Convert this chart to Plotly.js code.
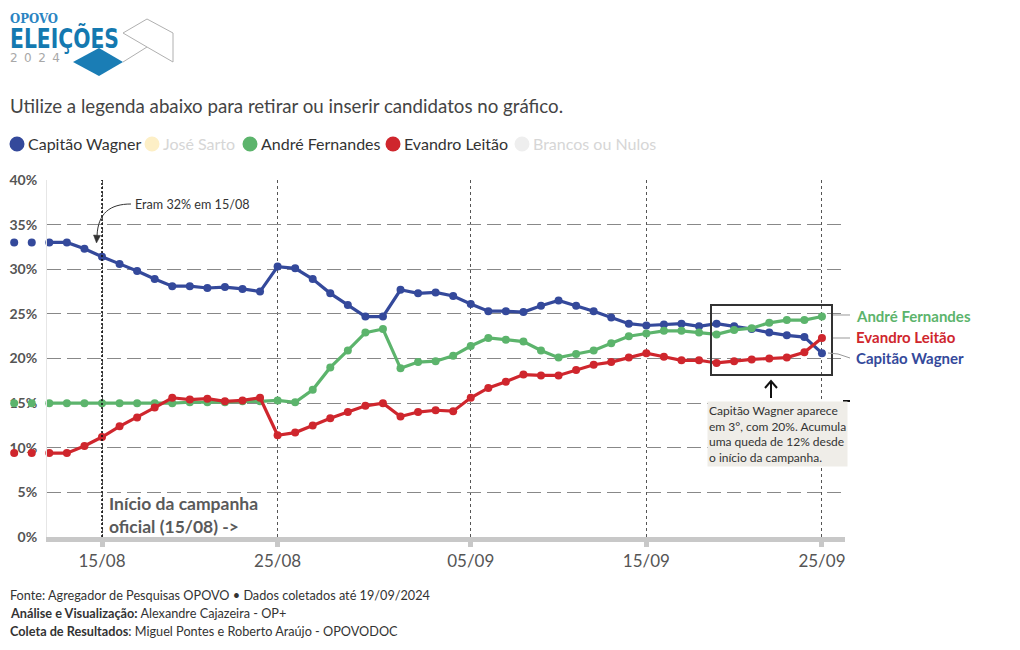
<!DOCTYPE html>
<html>
<head>
<meta charset="utf-8">
<script src="https://cdn.plot.ly/plotly-3.0.1.min.js"></script>
<style>
html,body{margin:0;padding:0;background:#fff;}
#wrap{position:relative;width:1020px;height:650px;}
#chart{position:absolute;left:0;top:0;width:1020px;height:650px;}
#logo{position:absolute;left:0;top:0;pointer-events:none;}
</style>
</head>
<body>
<div id="wrap">
<div id="chart"></div>
<svg id="logo" width="180" height="80" viewBox="0 0 180 80">
  <text x="10" y="23" font-family="DejaVu Serif, serif" font-weight="bold" font-size="13" fill="#2a84c2" textLength="48" lengthAdjust="spacingAndGlyphs">OPOVO</text>
  <g transform="translate(10,48) scale(1,1.3)">
    <text x="0" y="0" font-family="DejaVu Sans Condensed, sans-serif" font-weight="bold" font-size="21" fill="#1479b0" textLength="109" lengthAdjust="spacingAndGlyphs">ELEIÇÕES</text>
  </g>
  <text x="10" y="62" font-family="DejaVu Sans, sans-serif" font-size="12" fill="#a8a8a8" textLength="50" lengthAdjust="spacing">2024</text>
  <polygon points="73,62 99,48 123,62 99,76" fill="#1a7db5"/>
  <polyline points="123,62 147,47 123,33 147,19 173,33 173,62 147,47" fill="none" stroke="#b0b0b0" stroke-width="1"/>
</svg>
</div>
<script>
// ---- data ----
const dates = ['2024-08-10','2024-08-11','2024-08-12','2024-08-13','2024-08-14','2024-08-15','2024-08-16','2024-08-17','2024-08-18','2024-08-19','2024-08-20','2024-08-21','2024-08-22','2024-08-23','2024-08-24','2024-08-25','2024-08-26','2024-08-27','2024-08-28','2024-08-29','2024-08-30','2024-08-31','2024-09-01','2024-09-02','2024-09-03','2024-09-04','2024-09-05','2024-09-06','2024-09-07','2024-09-08','2024-09-09','2024-09-10','2024-09-11','2024-09-12','2024-09-13','2024-09-14','2024-09-15','2024-09-16','2024-09-17','2024-09-18','2024-09-19','2024-09-20','2024-09-21','2024-09-22','2024-09-23','2024-09-24','2024-09-25'];
const capitaoWagner = [33.0,33.0,33.0,33.0,32.3,31.4,30.6,29.8,28.9,28.1,28.1,27.9,28.0,27.8,27.5,30.3,30.1,28.9,27.3,26.0,24.7,24.7,27.7,27.3,27.4,27.0,26.1,25.3,25.3,25.2,25.9,26.5,25.9,25.3,24.6,23.9,23.7,23.8,23.9,23.6,23.9,23.6,23.3,22.9,22.6,22.4,20.6];
const andreFernandes = [15.0,15.0,15.0,15.0,15.0,15.0,15.0,15.0,15.0,15.0,15.1,15.1,15.1,15.2,15.2,15.3,15.1,16.5,19.0,20.9,22.9,23.3,18.9,19.6,19.7,20.3,21.4,22.3,22.1,21.9,20.9,20.1,20.5,20.9,21.7,22.5,22.8,23.1,23.1,22.9,22.7,23.2,23.4,24.0,24.3,24.3,24.7];
const evandroLeitao = [9.4,9.4,9.4,9.4,10.2,11.2,12.4,13.4,14.5,15.6,15.4,15.5,15.2,15.3,15.6,11.4,11.7,12.5,13.3,14.0,14.7,15.0,13.5,14.0,14.2,14.1,15.6,16.7,17.4,18.2,18.1,18.1,18.7,19.3,19.6,20.1,20.6,20.2,19.8,19.8,19.5,19.7,19.9,20.0,20.1,20.7,22.3];
const candidates = ['Capitão Wagner','José Sarto','André Fernandes','Evandro Leitão','Brancos ou Nulos'];
const colors = ['#34499b','#f8d977','#5cb46c','#cf262d','#dcdcdc'];
const fadedColors = ['#c2c8e0','#fdefc6','#cfe8d4','#f0c3c5','#eeeeee'];
const series = [capitaoWagner, null, andreFernandes, evandroLeitao, null];
const initiallyShown = [true, false, true, true, false];
const xTickVals = ['2024-08-15','2024-08-25','2024-09-05','2024-09-15','2024-09-25'];
const xTickText = ['15/08','25/08','05/09','15/09','25/09'];
const yTickVals = [0,5,10,15,20,25,30,35,40];
const yTickText = ['0%','5%','10%','15%','20%','25%','30%','35%','40%'];

// ---- layout geometry (pixels) -> paper ----
const ML=10, PL=47, PR=845, PT=180, PB=537;
const px = x => (x-ML)/(PR-ML);
const py = y => (PB-y)/(PB-PT);
const P = (x,y) => px(x).toFixed(5)+','+py(y).toFixed(5);

const traces = [];
const traceMap = {};
candidates.forEach((name,i)=>{
  if(series[i]){
    traceMap[i] = [traces.length];
    traces.push({
      x: dates, y: series[i], name: name, showlegend:false, xaxis:'x', yaxis:'y',
      type:'scatter', mode:'lines+markers', cliponaxis:false,
      line:{color:colors[i], width:3.2}, marker:{color:colors[i], size:8},
      hovertemplate:'%{x|%d/%m}: %{y:.1f}%<extra>'+name+'</extra>'
    });
  }
});
// early points shown left of the main axis (markers only, on a wider hidden axis)
candidates.forEach((name,i)=>{
  if(series[i]){
    traceMap[i].push(traces.length);
    traces.push({
      x: dates.slice(0,2), y: series[i].slice(0,2), name:name, showlegend:false, xaxis:'x2', yaxis:'y2',
      type:'scatter', mode:'markers', cliponaxis:false, marker:{color:colors[i], size:8},
      hovertemplate:'%{x|%d/%m}: %{y:.1f}%<extra>'+name+'</extra>'
    });
  }
});

const shapes = [
  {type:'line', xref:'x', yref:'paper', x0:'2024-08-15', x1:'2024-08-15', y0:0, y1:1, line:{color:'#111', width:1.6, dash:'2px,2px'}, layer:'above'},
  {type:'path', xref:'paper', yref:'paper', path:'M'+P(131,204)+' C'+P(110,204)+' '+P(98,213)+' '+P(97,236), line:{color:'#333', width:1}},
  {type:'path', xref:'paper', yref:'paper', path:'M'+P(93.5,235)+' L'+P(100.5,235.5)+' L'+P(96.5,243)+' Z', fillcolor:'#333', line:{color:'#333', width:0.5}},
  {type:'rect', xref:'paper', yref:'paper', x0:px(711), x1:px(832), y0:py(375), y1:py(305), line:{color:'#333', width:2}},
  {type:'path', xref:'paper', yref:'paper', path:'M'+P(771,398)+' L'+P(771,381), line:{color:'#111', width:2}},
  {type:'path', xref:'paper', yref:'paper', path:'M'+P(765,388)+' L'+P(771,381)+' L'+P(777,388), line:{color:'#111', width:2}},
  {type:'path', xref:'paper', yref:'paper', path:'M'+P(843,401)+' L'+P(850,401), line:{color:'#111', width:2}},
  {type:'path', xref:'paper', yref:'paper', path:'M'+P(833,315)+' L'+P(850,315), line:{color:'#999', width:1}},
  {type:'path', xref:'paper', yref:'paper', path:'M'+P(833,338)+' L'+P(850,338), line:{color:'#999', width:1}},
  {type:'path', xref:'paper', yref:'paper', path:'M'+P(828,353)+' L'+P(838,354)+' L'+P(850,358), line:{color:'#999', width:1}}
];

const annotations = [
  {xref:'x', yref:'y', x:'2024-08-16 18:00', y:37.3, text:'Eram 32% em 15/08', showarrow:false, xanchor:'left', yanchor:'middle', font:{size:12.6, color:'#333'}},
  {xref:'x', yref:'y', x:'2024-08-15 07:00', y:2.45, text:'Início da campanha<br>oficial (15/08) ->', showarrow:false, xanchor:'left', yanchor:'middle', align:'left', font:{size:17.5, color:'#5a5a5a', weight:'bold'}},
  {xref:'paper', yref:'paper', x:px(707), y:py(401), text:'Capitão Wagner aparece<br>em 3°, com 20%. Acumula<br>uma queda de 12% desde<br>o início da campanha.', showarrow:false, xanchor:'left', yanchor:'top', align:'left', font:{size:12, color:'#333'}, bgcolor:'#efede8'},
  {xref:'paper', yref:'y', x:px(854), y:24.75, text:'<b>André Fernandes</b>', showarrow:false, xanchor:'left', yanchor:'middle', font:{size:15, color:colors[2]}},
  {xref:'paper', yref:'y', x:px(854), y:22.4, text:'<b>Evandro Leitão</b>', showarrow:false, xanchor:'left', yanchor:'middle', font:{size:15, color:colors[3]}},
  {xref:'paper', yref:'y', x:px(854), y:20.05, text:'<b>Capitão Wagner</b>', showarrow:false, xanchor:'left', yanchor:'middle', font:{size:15, color:colors[0]}},
  {xref:'paper', yref:'paper', x:px(8), y:py(595), text:'Fonte: Agregador de Pesquisas OPOVO • Dados coletados até 19/09/2024', showarrow:false, xanchor:'left', yanchor:'middle', font:{size:12.7, color:'#333'}},
  {xref:'paper', yref:'paper', x:px(8), y:py(613), text:'<b>Análise e Visualização:</b> Alexandre Cajazeira - OP+', showarrow:false, xanchor:'left', yanchor:'middle', font:{size:12.7, color:'#333'}},
  {xref:'paper', yref:'paper', x:px(8), y:py(631), text:'<b>Coleta de Resultados</b>: Miguel Pontes e Roberto Araújo - OPOVODOC', showarrow:false, xanchor:'left', yanchor:'middle', font:{size:12.7, color:'#333'}}
];

// ---- clickable legend (circle + label) ----
const legendCx = [17, 152, 250, 393, 522];
const legendY = 144;
const legendShapeIdx = [], legendAnnIdx = [];
const shown = initiallyShown.slice();
candidates.forEach((name,i)=>{
  legendShapeIdx.push(shapes.length);
  shapes.push({type:'circle', xref:'paper', yref:'paper', x0:px(legendCx[i]-7.5), x1:px(legendCx[i]+7.5), y0:py(legendY+7.5), y1:py(legendY-7.5),
    fillcolor: shown[i] ? colors[i] : fadedColors[i], line:{width:0}});
  legendAnnIdx.push(annotations.length);
  annotations.push({xref:'paper', yref:'paper', x:px(legendCx[i]+9), y:py(legendY), text:name, showarrow:false, xanchor:'left', yanchor:'middle',
    font:{size:16, color: shown[i] ? '#333' : '#d6d6d6'}, captureevents:true});
});

const layout = {
  width:1020, height:650,
  margin:{l:ML, r:1020-PR, t:PT, b:650-PB, pad:0},
  paper_bgcolor:'#fff', plot_bgcolor:'rgba(0,0,0,0)',
  font:{family:'Lato, sans-serif', color:'#333'},
  title:{text:'Utilize a legenda abaixo para retirar ou inserir candidatos no gráfico.', xref:'container', yref:'container', x:10/1020, xanchor:'left', y:1-106/650, yanchor:'middle', font:{size:18.7, color:'#444'}},
  showlegend:false,
  xaxis:{type:'date', domain:[px(PL),1], anchor:'y', range:['2024-08-11 20:50','2024-09-26 07:30'], tickvals:xTickVals, ticktext:xTickText,
    tickfont:{size:17, color:'#555'}, showgrid:true, gridcolor:'#555', griddash:'3px,3px', gridwidth:1,
    showline:true, linecolor:'#c8c8c8', linewidth:5, ticks:'outside', ticklen:5, tickwidth:5, tickcolor:'#c8c8c8', zeroline:false},
  yaxis:{domain:[0,1], anchor:'x', range:[0,40], tickvals:yTickVals, ticktext:yTickText, tickfont:{size:14, color:'#555', weight:'bold'},
    showgrid:true, gridcolor:'#888', griddash:'14px,6px', gridwidth:1, showline:true, linecolor:'#e6e6e6', linewidth:1,
    zeroline:false, ticks:'', ticklabelstandoff:6},
  xaxis2:{type:'date', domain:[0,1], anchor:'y2', range:['2024-08-09 18:16','2024-09-26 07:30'], visible:false, showgrid:false, zeroline:false},
  yaxis2:{domain:[0,1], anchor:'x2', range:[0,40], visible:false, showgrid:false, zeroline:false},
  shapes:shapes, annotations:annotations,
  hovermode:'closest'
};

Plotly.newPlot('chart', traces, layout, {displayModeBar:false, responsive:false}).then(gd=>{
  gd.on('plotly_clickannotation', ev=>{
    const i = legendAnnIdx.indexOf(ev.index);
    if(i < 0) return;
    shown[i] = !shown[i];
    const upd = {};
    upd['annotations['+legendAnnIdx[i]+'].font.color'] = shown[i] ? '#333' : '#d6d6d6';
    upd['shapes['+legendShapeIdx[i]+'].fillcolor'] = shown[i] ? colors[i] : fadedColors[i];
    Plotly.relayout(gd, upd);
    if(traceMap[i]) Plotly.restyle(gd, {visible: shown[i] ? true : false}, traceMap[i]);
  });
});
</script>
</body>
</html>
